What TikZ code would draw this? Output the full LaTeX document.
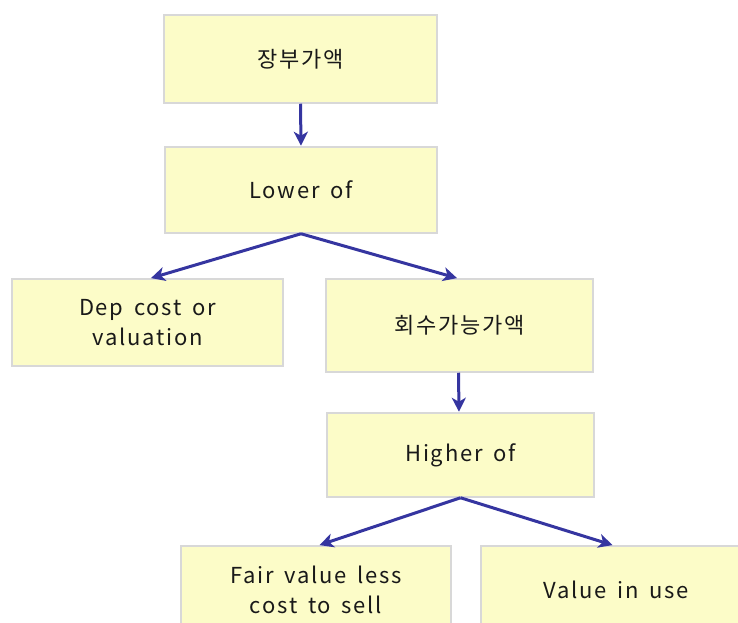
\documentclass[tikz,border=0pt]{standalone}
\usepackage{fontspec}
\setmainfont{Noto Sans CJK KR}[LetterSpace=8,WordSpace=1.6]
\usetikzlibrary{arrows.meta}
\definecolor{boxfill}{HTML}{FCFCC8}
\definecolor{boxline}{HTML}{D8D8D8}
\definecolor{arrowblue}{HTML}{3535A0}
\tikzset{
  box/.style={draw=boxline, line width=1.5pt, fill=boxfill, rectangle, inner sep=0pt,
    align=center, font=\fontsize{22}{30}\selectfont, text=black!90},
  link/.style={draw=arrowblue, line width=3pt, -{Stealth[length=14pt,width=14pt,inset=4pt]}, shorten >=0.5pt}
}
\begin{document}
\begin{tikzpicture}[x=1pt,y=-1pt]
\useasboundingbox (0,0) rectangle (738,623);
\clip (0,0) rectangle (738,623);
\node[box, minimum width=273pt, minimum height=88pt] (b1) at (300.5,59) {\raisebox{-2pt}{장부가액}};
\node[box, minimum width=272pt, minimum height=86pt] (b2) at (301,190) {\raisebox{-2pt}{Lower of}};
\node[box, minimum width=271pt, minimum height=87pt] (b3) at (147.5,322.5) {Dep cost or\\valuation};
\node[box, minimum width=267pt, minimum height=93pt] (b4) at (459.5,325.5) {\raisebox{-2pt}{회수가능가액}};
\node[box, minimum width=267pt, minimum height=84pt] (b5) at (460.5,455) {\raisebox{-2pt}{Higher of}};
\node[box, minimum width=270pt, minimum height=87pt] (b6) at (316,589.5) {Fair value less\\cost to sell};
\node[box, minimum width=270pt, minimum height=87pt] (b7) at (616,589.5) {Value in use};
\draw[link] (b1.south) -- (b2.north);
\draw[link] (b2.south) -- ([xshift=3pt]b3.north);
\draw[link] (b2.south) -- ([xshift=-2pt]b4.north);
\draw[link] ([xshift=-1pt]b4.south) -- ([xshift=-1.5pt]b5.north);
\draw[link] (b5.south) -- ([xshift=3pt]b6.north);
\draw[link] (b5.south) -- ([xshift=-3pt]b7.north);
\end{tikzpicture}
\end{document}
